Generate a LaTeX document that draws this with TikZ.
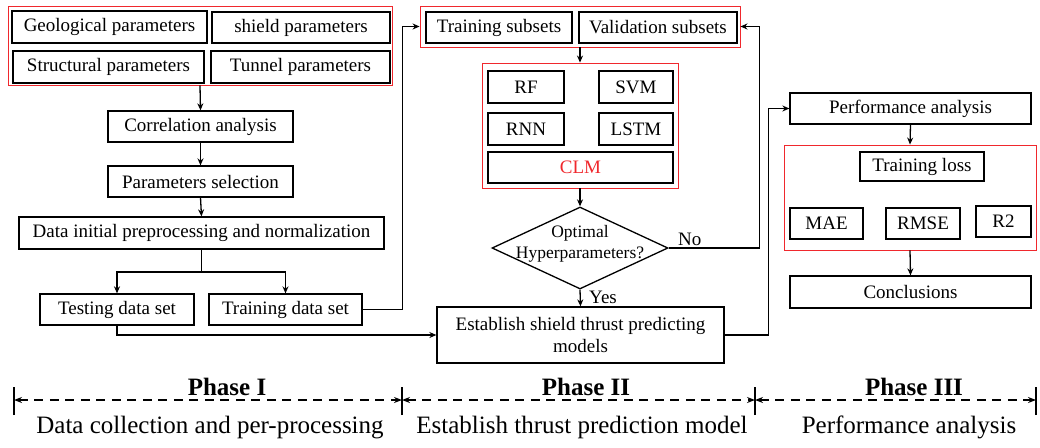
\documentclass[tikz,border=0pt]{standalone}
\usepackage{fontspec}
\setmainfont{Liberation Serif}
\usetikzlibrary{arrows.meta,shapes.geometric}
\definecolor{myred}{RGB}{240,40,45}
\tikzset{
  box/.style={draw=black, line width=1.3pt, inner sep=0pt, align=center, font=\fontsize{19}{22}\selectfont},
  redbox/.style={draw=myred, line width=0.9pt, inner sep=0pt},
  arr/.style={line width=1.3pt, -{Stealth[length=7pt,width=6pt]}},
  lin/.style={line width=1.3pt},
  phaseline/.style={line width=1.7pt, dash pattern=on 9pt off 6.5pt, {Stealth[length=8pt,width=6pt]}-{Stealth[length=8pt,width=6pt]}},
  tick/.style={line width=2.2pt},
  phaselab/.style={font=\fontsize{25}{28}\selectfont\bfseries, inner sep=0pt, anchor=base},
  desclab/.style={font=\fontsize{25}{28}\selectfont, inner sep=0pt, anchor=base},
  lab/.style={font=\fontsize{19}{22}\selectfont, inner sep=0pt, anchor=base west}
}
\begin{document}
\begin{tikzpicture}[x=1pt,y=-1pt]
\useasboundingbox (0,0) rectangle (1040,447);
% Phase I
\node[redbox, minimum width=384, minimum height=79] (red1) at (200,45.5) {};
\node[box, minimum width=195, minimum height=32] (geo) at (109.5,27) {Geological parameters};
\node[box, minimum width=178, minimum height=31] (shield) at (301,27.5) {shield parameters};
\node[box, minimum width=191, minimum height=32] (struct) at (108.5,67) {Structural parameters};
\node[box, minimum width=179, minimum height=32] (tunnel) at (300.5,67) {Tunnel parameters};
\node[box, minimum width=185, minimum height=31] (corr) at (200.5,126.5) {Correlation analysis};
\node[box, minimum width=185, minimum height=31] (psel) at (200.5,181.5) {Parameters selection};
\node[box, minimum width=365, minimum height=32] (dinit) at (201.5,233) {Data initial preprocessing and normalization};
\node[box, minimum width=154, minimum height=31] (test) at (117,309.5) {Testing data set};
\node[box, minimum width=153, minimum height=31] (train) at (285.5,309.5) {Training data set};
% Phase II
\node[redbox, minimum width=320, minimum height=41] (red2) at (580,26.5) {};
\node[box, minimum width=146, minimum height=31] (tsub) at (499,27.5) {Training subsets};
\node[box, minimum width=158, minimum height=31] (vsub) at (658,27.5) {Validation subsets};
\node[redbox, minimum width=196, minimum height=125] (red3) at (580,125.5) {};
\node[box, minimum width=76, minimum height=32] (rf) at (526,87) {RF};
\node[box, minimum width=74, minimum height=32] (svm) at (636,87) {SVM};
\node[box, minimum width=76, minimum height=32] (rnn) at (526,129) {RNN};
\node[box, minimum width=74, minimum height=32] (lstm) at (636,129) {LSTM};
\node[box, minimum width=185, minimum height=31, text=myred] (clm) at (580.5,167.5) {CLM};
\node[diamond, draw, line width=1.3pt, minimum width=176, minimum height=82, inner sep=0pt] (dia) at (580,248) {};
\node[align=center, inner sep=0pt, font=\fontsize{17.5}{21}\selectfont] (diatext) at (580,244) {Optimal\\Hyperparameters?};
\node[box, minimum width=287, minimum height=56] (est) at (580.5,335) {Establish shield thrust predicting\\models};
% Phase III
\node[box, minimum width=241, minimum height=31] (perf) at (910.5,108.5) {Performance analysis};
\node[redbox, minimum width=252, minimum height=105] (red4) at (910,197.5) {};
\node[box, minimum width=124, minimum height=29] (tloss) at (922,166.5) {Training loss};
\node[box, minimum width=73, minimum height=31] (mae) at (826.5,223.5) {MAE};
\node[box, minimum width=74, minimum height=31] (rmse) at (923,223.5) {RMSE};
\node[box, minimum width=55, minimum height=31] (r2) at (1003.5,221.5) {R2};
\node[box, minimum width=241, minimum height=32] (concl) at (910.5,292) {Conclusions};
% connectors
\draw[arr] (red1.south) -- (corr.north);
\draw[arr] (corr.south) -- (psel.north);
\draw[arr] (psel.south) -- (dinit.north);
\coordinate (br) at (201.5,272);
\draw[lin] (dinit.south) -- (br);
\draw[arr] (br) -| (test.north);
\draw[arr] (br) -| (train.north);
\draw[arr] (train.east) -- ++(40,0) |- (red2.west);
\draw[arr] (test.south) |- (est.west);
\draw[arr] (red2.south) -- (red3.north);
\draw[arr] (red3.south) -- (dia.north);
\draw[arr] (dia.east) -- ++(91,0) |- (red2.east);
\draw[arr] (dia.south) -- (est.north);
\draw[arr] (est.east) -- ++(44,0) |- (perf.west);
\draw[arr] (perf.south) -- (red4.north);
\draw[arr] (red4.south) -- (concl.north);
\node[lab] (nolab) at (678,245) {No};
\node[lab] (yeslab) at (589,303) {Yes};
% phase bar
\coordinate (t1) at (14,400);
\coordinate (t2) at (402,400);
\coordinate (t3) at (755,400);
\coordinate (t4) at (1036,400);
\foreach \t in {t1,t2,t3,t4} \draw[tick] ([yshift=-15pt]\t) -- ([yshift=13pt]\t);
\draw[phaseline] (t1) -- (t2);
\draw[phaseline] (t2) -- (t3);
\draw[phaseline] (t3) -- (t4);
\node[phaselab] (p1) at (227,395) {Phase I};
\node[phaselab] (p2) at (586,395) {Phase II};
\node[phaselab] (p3) at (914,395) {Phase III};
\node[desclab] (d1) at (210,433) {Data collection and per-processing};
\node[desclab] (d2) at (582,433) {Establish thrust prediction model};
\node[desclab] (d3) at (909,433) {Performance analysis};
\end{tikzpicture}
\end{document}
